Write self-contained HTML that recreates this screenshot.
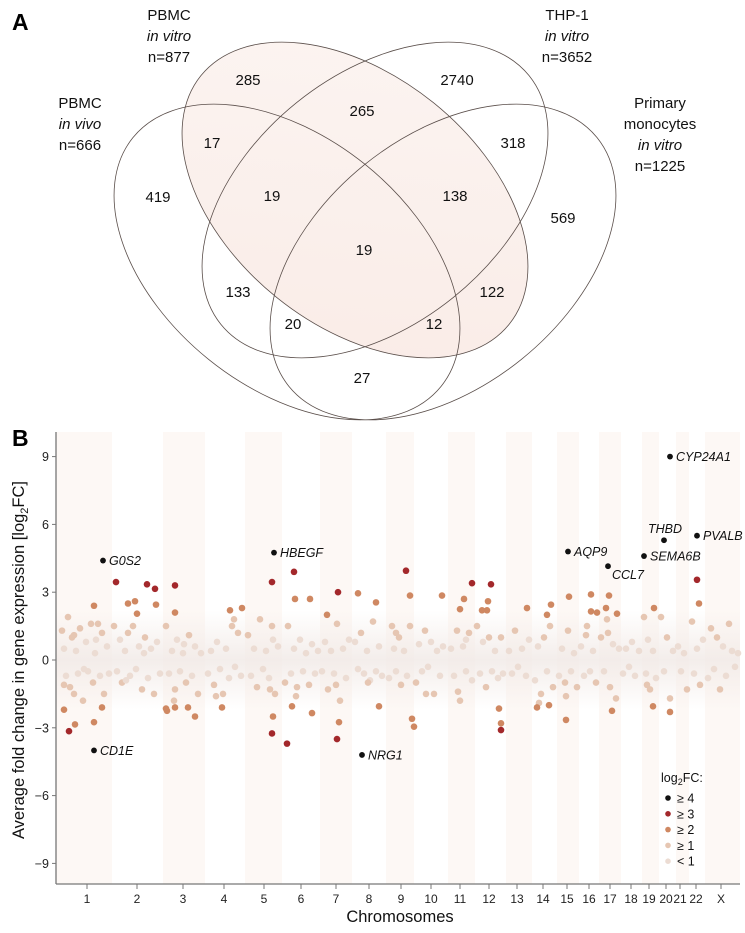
<!DOCTYPE html>
<html><head><meta charset="utf-8">
<style>
html,body{margin:0;padding:0;background:#fff;}
svg{display:block;font-family:"Liberation Sans",Arial,sans-serif;}
</style></head>
<body>
<svg id="fig" width="745" height="933" viewBox="0 0 745 933">
<defs>
<linearGradient id="vfill" x1="0" y1="0" x2="1" y2="1">
<stop offset="0" stop-color="#fcf5f2"/><stop offset="1" stop-color="#f9ebe6"/>
</linearGradient>
<linearGradient id="zeroband" x1="0" y1="0" x2="0" y2="1">
<stop offset="0" stop-color="#f3ebe7" stop-opacity="0"/>
<stop offset="0.5" stop-color="#f1eae7" stop-opacity="0.85"/>
<stop offset="1" stop-color="#f3ebe7" stop-opacity="0"/>
</linearGradient>
</defs>
<text x="12" y="30" font-size="23" font-weight="bold">A</text>
<g>
<ellipse cx="355" cy="200" rx="198" ry="125" transform="rotate(38.9 355 200)" fill="url(#vfill)" stroke="none"/>
<ellipse cx="287" cy="262" rx="198" ry="125" transform="rotate(38.9 287 262)" fill="none" stroke="#5a4e4a" stroke-width="0.8"/>
<ellipse cx="355" cy="200" rx="198" ry="125" transform="rotate(38.9 355 200)" fill="none" stroke="#5a4e4a" stroke-width="0.8"/>
<ellipse cx="375" cy="200" rx="198" ry="125" transform="rotate(-38.9 375 200)" fill="none" stroke="#5a4e4a" stroke-width="0.8"/>
<ellipse cx="443" cy="262" rx="198" ry="125" transform="rotate(-38.9 443 262)" fill="none" stroke="#5a4e4a" stroke-width="0.8"/>
<g font-size="15" text-anchor="middle" fill="#111">
<text x="169" y="20"><tspan x="169">PBMC</tspan><tspan x="169" dy="21" font-style="italic">in vitro</tspan><tspan x="169" dy="21">n=877</tspan></text>
<text x="567" y="20"><tspan x="567">THP-1</tspan><tspan x="567" dy="21" font-style="italic">in vitro</tspan><tspan x="567" dy="21">n=3652</tspan></text>
<text x="80" y="108"><tspan x="80">PBMC</tspan><tspan x="80" dy="21" font-style="italic">in vivo</tspan><tspan x="80" dy="21">n=666</tspan></text>
<text x="660" y="108"><tspan x="660">Primary</tspan><tspan x="660" dy="21">monocytes</tspan><tspan x="660" dy="21" font-style="italic">in vitro</tspan><tspan x="660" dy="21">n=1225</tspan></text>
</g>
<g font-size="15" text-anchor="middle" fill="#111" id="vcounts"></g>
</g>
<text x="12" y="446" font-size="23" font-weight="bold">B</text>
<g id="chart"></g>
</svg>
<script>
var NS='http://www.w3.org/2000/svg';
function mk(tag,attrs,parent){var e=document.createElementNS(NS,tag);for(var k in attrs)e.setAttribute(k,attrs[k]);parent.appendChild(e);return e;}
// Venn counts
var vennCounts=['285','2740','265','17','318','419','19','138','569','19','133','122','20','12','27'];
var vennRegions=['b-only','c-only','bc','ab','cd','a-only','abc','bcd','d-only','abcd','ac','bd','acd','abd','ad'];
var vennPos=[[248,85],[457,85],[362,116],[212,148],[513,148],[158,202],[272,201],[455,201],[563,223],[364,255],[238,297],[492,297],[293,329],[434,329],[362,383]];
var vg=document.getElementById('vcounts');
for(var i=0;i<vennCounts.length;i++){
 var t=mk('text',{x:vennPos[i][0],y:vennPos[i][1]},vg);
 
 
 t.textContent=vennCounts[i];
}
// Chart data
var chromLabels=['1','2','3','4','5','6','7','8','9','10','11','12','13','14','15','16','17','18','19','20','21','22','X'];
var chromStart=[0,56,107,149,189,226,264,296,330,358,392,419,450,476,501,523,543,565,586,603,620,633,649];
var chromEnd=[56,107,149,189,226,264,296,330,358,392,419,450,476,501,523,543,565,586,603,620,633,649,684];
var chromTick=[31,81,127,168,208,245,280,313,345,375,404,433,461,487,511,533,554,575,593,610,624,640,665];
var yTicks=[-9,-6,-3,0,3,6,9];
var lightPts=[[6,1.3],[8,0.5],[10,-0.7],[12,1.9],[14,-1.2],[16,1.0],[18,-1.5],[20,0.4],[22,-0.6],[24,1.4],[27,-1.8],[30,0.8],[32,-0.5],[35,1.6],[37,-1.0],[39,0.3],[42,1.6],[44,-0.7],[46,1.2],[48,-1.5],[51,0.6],[53,-0.6],[8,-1.1],[18,1.1],[28,-0.4],[40,0.9],
[58,1.5],[61,-0.5],[64,0.9],[66,-1.0],[69,0.4],[72,1.2],[74,-0.7],[77,1.5],[80,-0.4],[83,0.6],[86,-1.3],[89,1.0],[92,-0.8],[95,0.5],[98,-1.5],[101,0.8],[104,-0.6],[70,-0.9],[88,0.3],
[110,1.5],[113,-0.6],[116,0.4],[119,-1.3],[121,0.9],[124,-0.5],[127,0.3],[130,-1.0],[133,1.1],[136,-0.7],[139,0.6],[142,-1.5],[145,0.3],[118,-1.8],[128,0.7],
[152,-0.6],[155,0.4],[158,-1.1],[161,0.8],[164,-0.4],[167,-1.5],[170,0.5],[173,-0.8],[176,1.5],[179,-0.3],[182,1.2],[185,-0.7],[160,-1.6],[178,1.8],
[192,1.1],[195,-0.7],[198,0.5],[201,-1.2],[204,1.8],[207,-0.4],[210,0.4],[213,-0.8],[216,1.5],[219,-1.5],[222,0.6],[214,-1.3],[217,0.9],
[229,-1.0],[232,1.5],[235,-0.6],[238,0.5],[241,-1.2],[244,0.9],[247,-0.5],[250,0.3],[253,-1.1],[256,0.7],[259,-0.6],[262,0.4],[240,-1.6],
[266,-0.5],[269,0.8],[272,-1.3],[275,0.4],[278,-0.6],[281,1.6],[284,-1.8],[287,0.5],[290,-0.8],[293,0.9],[280,-1.1],
[299,0.8],[302,-0.4],[305,1.2],[308,-0.6],[311,0.4],[314,-0.9],[317,1.7],[320,-0.5],[323,0.6],[326,-0.7],[312,-1.0],
[333,-0.8],[336,1.5],[338,0.5],[340,-0.5],[343,1.0],[345,-1.1],[348,0.4],[351,-0.7],[354,1.5],[340,1.2],
[360,-1.0],[363,0.7],[366,-0.5],[369,1.3],[372,-0.3],[375,0.8],[378,-1.5],[381,0.4],[384,-0.7],[387,0.6],[370,-1.5],
[395,0.5],[398,-0.7],[401,1.3],[404,-1.8],[407,0.6],[410,-0.5],[413,1.2],[416,-0.9],[402,-1.4],[410,0.9],
[421,1.5],[424,-0.6],[427,0.8],[430,-1.2],[433,1.0],[436,-0.5],[439,0.4],[442,-0.8],[445,1.0],[447,-0.6],
[453,0.4],[456,-0.6],[459,1.3],[462,-0.3],[466,0.5],[470,-0.7],[473,0.9],
[479,-0.9],[482,0.6],[485,-1.5],[488,1.0],[491,-0.5],[494,1.5],[497,-1.2],[483,-1.9],
[503,-0.7],[506,0.5],[509,-1.0],[512,1.3],[515,-0.5],[518,0.3],[521,-1.2],[510,-1.6],
[525,0.6],[528,-0.7],[531,1.5],[534,-0.5],[537,0.4],[540,-1.0],[530,1.1],
[545,1.0],[548,-0.5],[551,1.8],[554,-1.2],[557,0.7],[560,-1.7],[563,0.5],[552,1.2],
[567,-0.6],[570,0.5],[573,-0.3],[576,0.8],[579,-0.7],[583,0.4],
[588,1.9],[590,-0.6],[592,0.9],[594,-1.3],[597,0.4],[600,-0.8],[591,-1.1],
[605,1.9],[608,-0.5],[611,1.0],[614,-1.7],[617,0.4],
[622,0.6],[625,-0.5],[628,0.3],[631,-1.3],
[636,1.7],[638,-0.6],[641,0.5],[644,-1.1],[647,0.9],
[652,-0.8],[655,1.4],[658,-0.4],[661,1.0],[664,-1.3],[667,0.6],[670,-0.7],[673,1.6],[676,0.4],[679,-0.3],[682,0.3]];
var strongPts=[[13,-3.15],[60,3.45],[91,3.35],[99,3.15],[119,3.3],[216,3.45],[216,-3.25],[231,-3.7],[238,3.9],[282,3.0],[281,-3.5],[350,3.95],[416,3.4],[435,3.35],[445,-3.1],[641,3.55],
[8,-2.2],[19,-2.85],[38,2.4],[38,-2.75],[46,-2.1],[72,2.5],[79,2.6],[81,2.05],[100,2.45],[111,-2.25],[110,-2.15],[119,2.1],[119,-2.1],[132,-2.1],[139,-2.5],[166,-2.1],[174,2.2],[186,2.3],[217,-2.5],[236,-2.05],[239,2.7],[254,2.7],[256,-2.35],[271,2.0],[283,-2.75],[302,2.95],[320,2.55],[323,-2.05],[354,2.85],[356,-2.6],[358,-2.95],[386,2.85],[404,2.25],[408,2.7],[426,2.2],[431,2.2],[432,2.6],[443,-2.15],[445,-2.8],[471,2.3],[481,-2.1],[491,2.0],[493,-2.0],[495,2.45],[510,-2.65],[513,2.8],[535,2.9],[535,2.15],[541,2.1],[550,2.3],[553,2.85],[556,-2.25],[561,2.05],[598,2.3],[597,-2.05],[614,-2.3],[643,2.5]];
var geneNames=['CYP24A1','THBD','PVALB','SEMA6B','AQP9','CCL7','HBEGF','G0S2','CD1E','NRG1'];
var genePos=[614,608,641,588,512,552,218,47,38,306];
var geneVal=[9.0,5.3,5.5,4.6,4.8,4.15,4.75,4.4,-4.0,-4.2];
var legendLabels=['\u2265 4','\u2265 3','\u2265 2','\u2265 1','< 1'];

var PL=56,PR=740,PT=432,PB=884;
function xs(p){return PL+p*(PR-PL)/684;}
function ys(v){return 660-v*(203.4/9);}
function col(v){var a=Math.abs(v);return a>=4?'#111111':a>=3?'#a3282b':a>=2?'#cf8862':a>=1?'#e6c6b2':'#ecdcd3';}
var g=document.getElementById('chart');
for(var i=0;i<chromLabels.length;i+=2){
 var b=mk('rect',{x:xs(chromStart[i]),y:PT,width:xs(chromEnd[i])-xs(chromStart[i]),height:PB-PT,fill:'#fdf8f5'},g);
 
 
}
var zb=mk('rect',{x:PL,y:ys(2.2),width:PR-PL,height:ys(-2.2)-ys(2.2),fill:'url(#zeroband)'},g);


var ya=mk('line',{x1:PL,y1:PT,x2:PL,y2:PB,stroke:'#777',"stroke-width":1.3},g);


var xa=mk('line',{x1:PL,y1:PB,x2:PR,y2:PB,stroke:'#777',"stroke-width":1.3},g);


for(var i=0;i<yTicks.length;i++){
 var y=ys(yTicks[i]);
 mk('line',{x1:PL-4,y1:y,x2:PL,y2:y,stroke:'#777'},g);
 var t=mk('text',{x:PL-7,y:y+4.5,"font-size":12.5,"text-anchor":"end",fill:'#222'},g);
 
 
 t.textContent=yTicks[i]<0?'\u2212'+(-yTicks[i]):String(yTicks[i]);
}
for(var i=0;i<chromLabels.length;i++){
 var x=xs(chromTick[i]);
 mk('line',{x1:x,y1:PB,x2:x,y2:PB+5,stroke:'#777'},g);
 var t=mk('text',{x:x,y:PB+19,"font-size":12,"text-anchor":"middle",fill:'#222'},g);
 
 
 t.textContent=chromLabels[i];
}
function dot(p,v,r,name){var c=mk('circle',{cx:xs(p),cy:ys(v),r:r,fill:col(v)},g);return c;}
for(var i=0;i<lightPts.length;i++)dot(lightPts[i][0],lightPts[i][1],3.3,'gene-point');
for(var i=0;i<strongPts.length;i++)dot(strongPts[i][0],strongPts[i][1],3.3,'gene-point');
for(var i=0;i<geneNames.length;i++){
 var c=mk('circle',{cx:xs(genePos[i]),cy:ys(geneVal[i]),r:2.9,fill:'#111'},g);
 
 
 var tx=xs(genePos[i])+6,ty=ys(geneVal[i])+4.5,anc='start';
 if(geneNames[i]==='THBD'){tx=xs(genePos[i])-16;ty=ys(geneVal[i])-7;}
 if(geneNames[i]==='CCL7'){tx=xs(genePos[i])+4;ty=ys(geneVal[i])+13;}
 var t=mk('text',{x:tx,y:ty,"font-size":12.5,"font-style":"italic","text-anchor":anc,fill:'#111'},g);
 
 
 t.textContent=geneNames[i];
}
var yt=mk('text',{x:0,y:0,"font-size":16.5,"text-anchor":"middle",fill:'#111',transform:'translate(24,660) rotate(-90)'},g);


yt.innerHTML='Average fold change in gene expression [log<tspan font-size="11" dy="4">2</tspan><tspan dy="-4">FC]</tspan>';
var xt=mk('text',{x:400,y:922,"font-size":16.5,"text-anchor":"middle",fill:'#111'},g);


xt.textContent='Chromosomes';
var lg=mk('g',{},g);


var lt=mk('text',{x:661,y:782,"font-size":12.5,fill:'#111'},lg);


lt.innerHTML='log<tspan font-size="9" dy="3">2</tspan><tspan dy="-3">FC:</tspan>';
var legVals=[4,3,2,1,0];
for(var i=0;i<legendLabels.length;i++){
 var y=798+i*15.8;
 var c=mk('circle',{cx:668,cy:y,r:2.8,fill:col(legVals[i])},lg);
 
 
 var t=mk('text',{x:677,y:y+4.5,"font-size":12.5,fill:'#111'},lg);
 
 
 t.textContent=legendLabels[i];
}
</script>
</body></html>
